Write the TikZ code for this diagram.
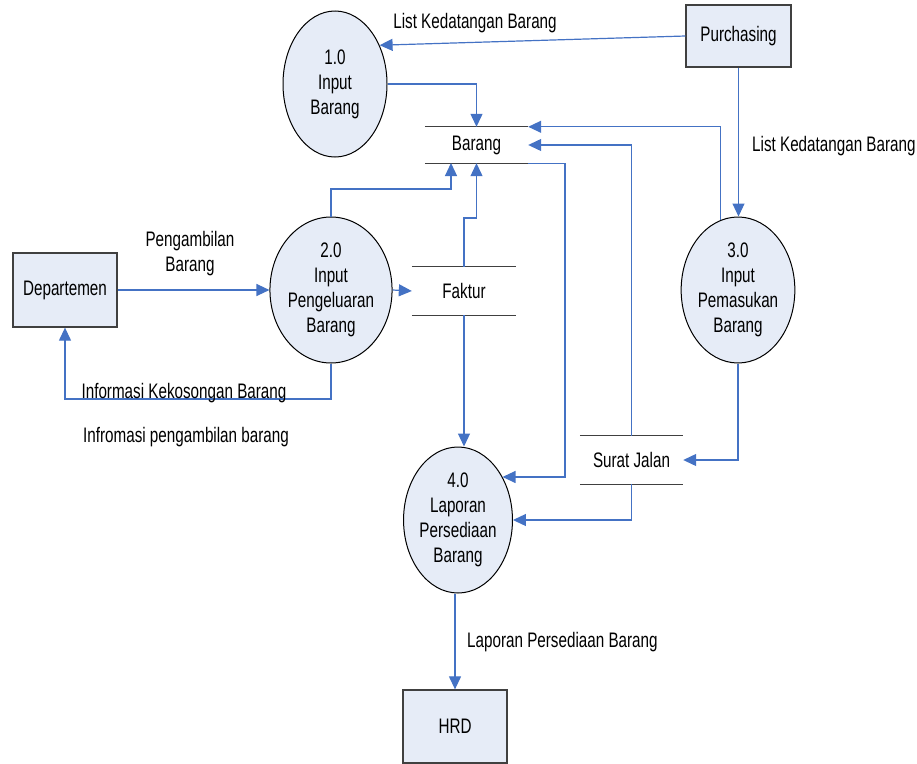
\documentclass[tikz,border=0pt]{standalone}
\usepackage{fontspec}
\setmainfont[FakeStretch=0.725]{Liberation Sans}
\usetikzlibrary{arrows.meta,shapes.geometric,calc}
\definecolor{flowblue}{RGB}{68,114,196}
\definecolor{procfill}{RGB}{230,236,247}
\definecolor{edgegray}{RGB}{64,64,64}
\begin{document}
\begin{tikzpicture}[x=1pt,y=-1pt,
  font=\fontsize{21}{25}\selectfont,
  proc/.style={ellipse,draw=black,line width=1pt,fill=procfill,minimum width=104pt,minimum height=146pt,inner sep=0pt,align=center},
  ent/.style={rectangle,draw=edgegray,line width=1.3pt,fill=procfill,inner sep=0pt},
  store/.style={inner sep=0pt,minimum width=103pt},
  storeline/.style={draw=edgegray,line width=1.3pt},
  flow/.style={draw=flowblue,line width=1.2pt,-{Triangle[length=13pt,width=12pt]}},
  lbl/.style={inner sep=0pt,align=center}]
\useasboundingbox (0,0) rectangle (917,763);

% processes
\node[proc] (n1) at (335,84) {1.0\\Input\\Barang};
\node[proc] (n2) at (331,290) {2.0\\Input\\Pengeluaran\\Barang};
\node[proc] (n3) at (738,290) {3.0\\Input\\Pemasukan\\Barang};
\node[proc] (n4) at (458,520) {4.0\\Laporan\\Persediaan\\Barang};

% external entities
\node[ent,minimum width=105pt,minimum height=62pt] (purch) at (738.5,36) {Purchasing};
\node[ent,minimum width=104pt,minimum height=74pt] (dep) at (65,290) {Departemen};
\node[ent,minimum width=104pt,minimum height=73pt] (hrd) at (455,726.5) {HRD};

% data stores
\node[store,minimum height=36pt] (barang) at (476.5,145) {Barang};
\node[store,minimum width=104pt,minimum height=48pt] (faktur) at (464,291) {Faktur};
\node[store,minimum height=48pt] (surat) at (631.5,460) {Surat Jalan};
\draw[storeline] (barang.north west) -- (barang.north east);
\draw[storeline] (barang.south west) -- (barang.south east);
\draw[storeline] (faktur.north west) -- (faktur.north east);
\draw[storeline] (faktur.south west) -- (faktur.south east);
\draw[storeline] (surat.north west) -- (surat.north east);
\draw[storeline] (surat.south west) -- (surat.south east);

% helper coordinates
\coordinate (k2) at (331,189);
\coordinate (b1) at (451,163);
\coordinate (kf) at (464,218);
\coordinate (kd) at (331,399);
\coordinate (kb) at (565,0);

% flows
\draw[flow] (purch.west) -- (n1.41.6);
\draw[flow] (n1.east) -| (barang.north);
\draw[flow] (n3.104.7) |- (barang.north east);
\draw[flow] (surat.north) |- (barang.east);
\draw[flow] (n2.north) -- (k2) -| (b1);
\draw[flow] (faktur.north) -- (kf) -| (barang.south);
\draw[flow] (dep.east) -- (n2.west);
\draw[flow] (n2.south) -- (kd) -| (dep.south);
\draw[flow] (n2.east) -- (faktur.west);
\draw[flow] (faktur.south) -- (faktur.south |- n4.north);
\draw[flow] (barang.south east) -| (n4.44.7 -| kb) -- (n4.44.7);
\draw[flow] (n3.south) |- (surat.east);
\draw[flow] (surat.south) |- (n4.east);
\draw[flow] (purch.south) -- (purch.south |- n3.north);
\draw[flow] (hrd.north |- n4.south) -- (hrd.north);

% labels
\node[lbl] (l1) at (475,23) {List Kedatangan Barang};
\node[lbl,anchor=west] (l2) at (752,146.5) {List Kedatangan Barang};
\node[lbl] (l3) at (190,254) {Pengambilan\\Barang};
\node[lbl] (l4) at (184,393) {Informasi Kekosongan Barang};
\node[lbl] (l5) at (186,437.5) {Infromasi pengambilan barang};
\node[lbl,anchor=west] (l6) at (467,642) {Laporan Persediaan Barang};
\end{tikzpicture}
\end{document}
